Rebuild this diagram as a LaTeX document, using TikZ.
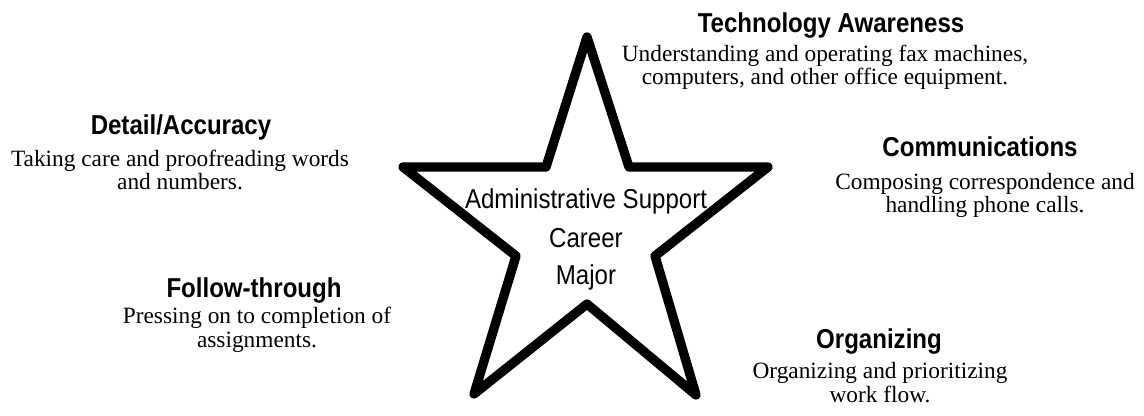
\documentclass[tikz,border=0pt]{standalone}
\usepackage{fontspec}
\setmainfont{Liberation Serif}
\newfontfamily\headfont[FakeStretch=0.88]{Liberation Sans}
\tikzset{
  head/.style={anchor=base,inner sep=0pt,font=\headfont\bfseries\fontsize{20.5pt}{22pt}\selectfont},
  desc/.style={anchor=base,inner sep=0pt,align=center,font=\fontsize{17.5pt}{17.5pt}\selectfont},
  title/.style={anchor=base,inner sep=0pt,align=center,font=\headfont\fontsize{20.5pt}{28.5pt}\selectfont},
}
\begin{document}
\begin{tikzpicture}[x=0.75pt,y=-0.75pt]
\useasboundingbox (0,0) rectangle (1144,416);
\coordinate (T) at (587,37);
\coordinate (TR) at (629,167);
\coordinate (R) at (768,167);
\coordinate (RR) at (655,256);
\coordinate (BR) at (696,395);
\coordinate (B) at (587,304);
\coordinate (BL) at (474,394);
\coordinate (LL) at (516,256);
\coordinate (L) at (403,167);
\coordinate (TL) at (546,167);
\draw[line width=7pt,line join=round] (T)--(TR)--(R)--(RR)--(BR)--(B)--(BL)--(LL)--(L)--(TL)--cycle;
% multi-line nodes sit on their last line
\node[title] (career) at (586,285) {Administrative Support\\Career\\Major};
\node[head] (techH) at (831,33) {Technology Awareness};
\node[desc] (techD) at (825,85) {Understanding and operating fax machines,\\computers, and other office equipment.};
\node[head] (detH) at (181,135) {Detail/Accuracy};
\node[desc] (detD) at (180,190) {Taking care and proofreading words\\and numbers.};
\node[head] (comH) at (980,157) {Communications};
\node[desc] (comD) at (985,213) {Composing correspondence and\\handling phone calls.};
\node[head] (folH) at (254,297) {Follow-through};
\node[desc] (folD) at (257,347) {Pressing on to completion of\\assignments.};
\node[head] (orgH) at (879,348) {Organizing};
\node[desc] (orgD) at (880,402) {Organizing and prioritizing\\work flow.};
\end{tikzpicture}
\end{document}
